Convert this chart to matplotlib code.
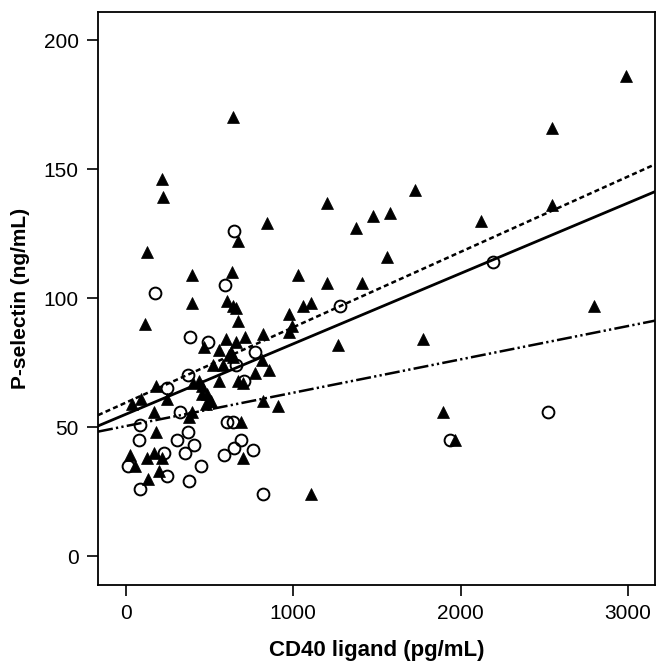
import numpy as np
import matplotlib
matplotlib.use('Agg')
import matplotlib.pyplot as plt

# filled triangles (CD40 ligand pg/mL, P-selectin ng/mL)
tri_x = [641, 218, 222, 1204, 844, 1377, 1479, 1581, 671, 2986, 2545, 1729, 2124, 2547,
         1561, 2796, 1774, 1894, 1964, 1030, 1202, 1409, 1060, 1106, 1265, 128, 393, 631,
         393, 601, 641, 657, 667, 972, 114, 467, 597, 713, 820, 972, 990, 657, 557, 627,
         521, 581, 637, 812, 853, 771, 557, 671, 697, 437, 401, 178, 457, 457, 487, 244,
         497, 38, 92, 477, 820, 906, 168, 397, 377, 687, 178, 24, 52, 128, 168, 214, 198,
         134, 697, 1106, 507, 613]
tri_y = [170, 146, 139, 137, 129, 127, 132, 133, 122, 186, 166, 142, 130, 136,
         116, 97, 84, 56, 45, 109, 106, 106, 97, 98, 82, 118, 109, 110,
         98, 99, 97, 96, 91, 94, 90, 81, 84, 85, 86, 87, 89, 83, 80, 79,
         74, 74, 77, 76, 72, 71, 68, 68, 67, 68, 67, 66, 63, 66, 63, 61,
         60, 59, 61, 59, 60, 58, 56, 56, 54, 52, 48, 39, 35, 38, 40, 38, 33,
         30, 38, 24, 60, 78]

# open circles
circ_x = [645, 2194, 1280, 174, 593, 383, 491, 771, 657, 707, 373, 244, 323, 84, 601, 637,
          78, 307, 371, 409, 351, 229, 14, 244, 82, 377, 447, 585, 643, 687, 760, 820,
          2523, 1934]
circ_y = [126, 114, 97, 102, 105, 85, 83, 79, 74, 68, 70, 65, 56, 51, 52, 52,
          45, 45, 48, 43, 40, 40, 35, 31, 26, 29, 35, 39, 42, 45, 41, 24,
          56, 45]

# fit lines: intercept, slope
fit_solid = (55.0, 0.02728)
fit_dashed = (59.5, 0.0292)
fit_dashdot = (50.4, 0.01292)

x_ticks = [0, 1000, 2000, 3000]
y_ticks = [0, 50, 100, 150, 200]

plt.rcParams['font.family'] = ['Liberation Sans', 'DejaVu Sans']

fig = plt.figure(figsize=(6.67, 6.64), dpi=100)
ax = fig.add_axes([0.147, 0.119, 0.835, 0.863])

xlim = (-167, 3162)
xl = np.array(xlim)
ax.plot(xl, fit_dashed[0] + fit_dashed[1] * xl, c='k', lw=1.8,
        linestyle=(0, (2.0, 1.3)))
ax.plot(xl, fit_solid[0] + fit_solid[1] * xl, c='k', lw=2.0)
ax.plot(xl, fit_dashdot[0] + fit_dashdot[1] * xl, c='k', lw=1.8,
        linestyle=(0, (6.0, 1.3, 0.9, 1.3, 0.9, 1.3)))

ax.plot(tri_x, tri_y, '^', ms=8.5, mfc='k', mec='k', mew=0.5, ls='none')
ax.plot(circ_x, circ_y, 'o', ms=8.5, mfc='none', mec='k', mew=1.4, ls='none')

ax.set_xlim(xlim)
ax.set_ylim(-11.2, 210.9)
ax.set_xticks(x_ticks)
ax.set_yticks(y_ticks)
ax.tick_params(direction='out', length=8, width=1.2, labelsize=15, pad=6)
for s in ax.spines.values():
    s.set_linewidth(1.3)
ax.set_xlabel('CD40 ligand (pg/mL)', fontsize=16, fontweight='bold', labelpad=12)
ax.set_ylabel('P-selectin (ng/mL)', fontsize=15, fontweight='bold', labelpad=10)

fig.savefig('out.png', dpi=100)
